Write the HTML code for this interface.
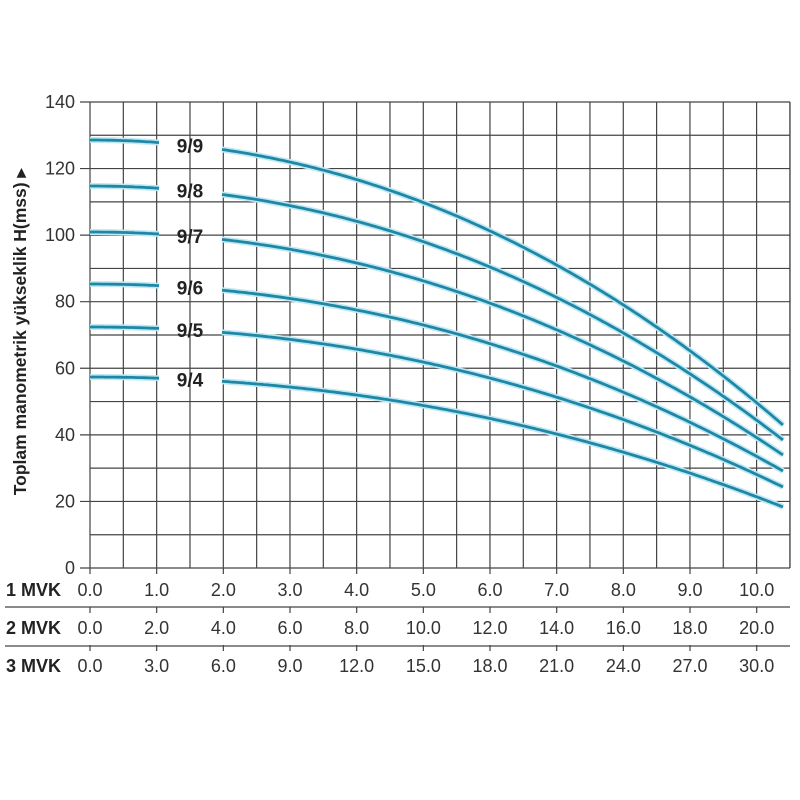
<!DOCTYPE html>
<html><head><meta charset="utf-8"><style>body{margin:0;background:#fff}svg{display:block}</style></head>
<body>
<svg id="s" width="800" height="800" xmlns="http://www.w3.org/2000/svg" font-family="Liberation Sans, sans-serif">
</svg>
<script>
const s=document.getElementById('s');let h='';
const X0=90,XS=66.67,Y0=568,YS=3.3286,XR=790;
for(let i=0;i<=21;i++){const x=X0+i*33.33;if(x>XR+1)break;h+=`<line x1="${x}" y1="102" x2="${x}" y2="568" stroke="#444" stroke-width="1.2"/>`;}
h+=`<line x1="${XR}" y1="102" x2="${XR}" y2="568" stroke="#444" stroke-width="1.2"/>`;
for(let v=0;v<=140;v+=10){const y=Y0-v*YS;h+=`<line x1="${v%20==0?80:90}" y1="${y}" x2="${XR}" y2="${y}" stroke="#444" stroke-width="1.2"/>`;
 if(v%20==0)h+=`<text x="75" y="${y+6}" font-size="18" fill="#333" text-anchor="end">${v}</text>`;}
const rows=[[1,590],[2,628],[3,666]];
rows.forEach(([m,y],ri)=>{h+=`<text x="6" y="${y+6}" font-size="18" font-weight="bold" fill="#222">${m} MVK</text>`;
 for(let i=0;i<=10;i++){const x=X0+i*XS;h+=`<text x="${x}" y="${y+6}" font-size="18" fill="#333" text-anchor="middle">${(i*m).toFixed(1)}</text>`;
  if(ri>0)h+=`<line x1="${x}" y1="${y-21}" x2="${x}" y2="${y-15}" stroke="#444" stroke-width="1.2"/>`;
  else h+=`<line x1="${x}" y1="568" x2="${x}" y2="574" stroke="#444" stroke-width="1.2"/>`;}});
h+=`<line x1="5" y1="607" x2="${XR}" y2="607" stroke="#444" stroke-width="1.2"/><line x1="5" y1="646" x2="${XR}" y2="646" stroke="#444" stroke-width="1.2"/>`;
const c=[["9/9",140,425],["9/8",186,440],["9/7",232,455],["9/6",284,471],["9/5",327,487],["9/4",377,507]];
c.forEach(([l,ys,ye])=>{let p1='',p2='',ym=0;
 for(let x=90;x<=783;x+=3){const t=(x-90)/693;const y=ys+(ye-ys)*(0.9*t*t+0.1*t*t*t);
  if(x<=160)p1+=`${x},${y.toFixed(1)} `;if(x>=220)p2+=`${x},${y.toFixed(1)} `;if(Math.abs(x-189)<2)ym=y;}
 [p1,p2].forEach(p=>{h+=`<polyline points="${p}" fill="none" stroke="#bfe8f2" stroke-width="6"/><polyline points="${p}" fill="none" stroke="#1f87a6" stroke-width="2.8"/>`;});
 h+=`<text x="190" y="${ym+7}" font-size="19" font-weight="bold" fill="#222" text-anchor="middle">${l}</text>`;});
h+=`<text transform="translate(26,332) rotate(-90)" font-size="17.5" font-weight="bold" fill="#222" text-anchor="middle">Toplam manometrik yükseklik H(mss) ▸</text>`;
s.innerHTML=h;
</script>
</body></html>
